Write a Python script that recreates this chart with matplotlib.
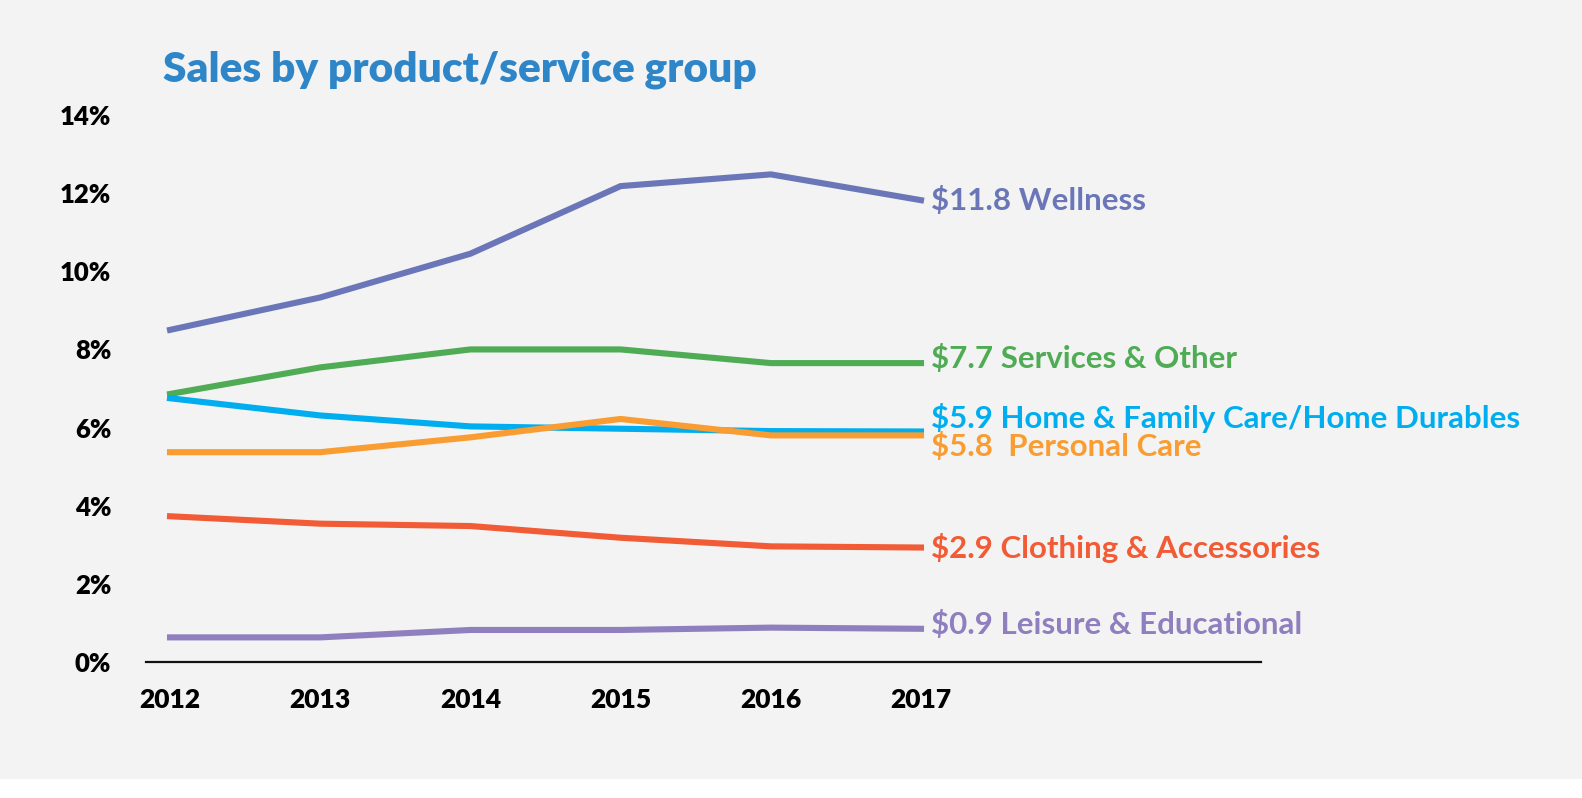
import matplotlib.pyplot as plt
from matplotlib.patches import Rectangle

years = [2012, 2013, 2014, 2015, 2016, 2017]

wellness = [8.50, 9.33, 10.45, 12.18, 12.48, 11.82]
services = [6.86, 7.54, 8.00, 8.00, 7.65, 7.65]
home_family = [6.75, 6.31, 6.03, 5.97, 5.91, 5.90]
personal_care = [5.37, 5.37, 5.75, 6.22, 5.80, 5.80]
clothing = [3.73, 3.54, 3.48, 3.18, 2.96, 2.93]
leisure = [0.63, 0.63, 0.82, 0.82, 0.88, 0.85]

labels = [
    "$11.8 Wellness",
    "$7.7 Services & Other",
    "$5.9 Home & Family Care/Home Durables",
    "$5.8  Personal Care",
    "$2.9 Clothing & Accessories",
    "$0.9 Leisure & Educational",
]
yticks = [0, 2, 4, 6, 8, 10, 12, 14]

series = [wellness, services, home_family, personal_care, clothing, leisure]
colors = ["#6b76b9", "#4fac55", "#00aeef", "#f99d32", "#f15b35", "#8f7fbe"]
# vertical nudge of the end labels, in points
label_dy = [0, 3, 10, -8, 0, 3]

plt.rcParams["font.family"] = ["Lato", "DejaVu Sans"]

fig = plt.figure(figsize=(15.82, 7.98), dpi=100)
fig.patch.set_facecolor("white")
fig.add_artist(Rectangle((0, 19 / 798), 1, 779 / 798, transform=fig.transFigure,
                         facecolor="#f2f3f2", edgecolor="none", zorder=0))

W, H = 1582, 798
left, right, top, bottom = 146, 1261, 115, 662
ax = fig.add_axes([left / W, 1 - bottom / H, (right - left) / W, (bottom - top) / H])
ax.set_facecolor("none")

for vals, col in zip(series, colors):
    ax.plot(years, vals, color=col, lw=4.4, solid_joinstyle="miter", clip_on=False)

for vals, col, lab, dy in zip(series, colors, labels, label_dy):
    ax.annotate(lab, xy=(years[-1], vals[-1]), xytext=(7, dy), textcoords="offset points",
                color=col, fontsize=22.5, fontweight="bold", va="center", ha="left")

ax.set_xlim(2011.84, 2019.264)
ax.set_ylim(0, 14)
ax.set_xticks(years)
ax.set_xticklabels([str(y) for y in years], fontsize=19, fontweight="heavy")
ax.set_yticks(yticks)
ax.set_yticklabels([f"{v}%" for v in yticks], fontsize=18.5, fontweight="heavy")
ax.tick_params(axis="both", length=0)
ax.tick_params(axis="y", pad=25)
ax.tick_params(axis="x", pad=19)

for s in ["top", "right", "left"]:
    ax.spines[s].set_visible(False)
ax.spines["bottom"].set_linewidth(1.6)
ax.spines["bottom"].set_color("#111111")

fig.text(163 / W, 1 - 70 / H, "Sales by product/service group", color="#2e86c9",
         fontsize=30.5, fontweight="heavy", va="center", ha="left")

fig.savefig("out.png", dpi=100, facecolor=fig.get_facecolor())
